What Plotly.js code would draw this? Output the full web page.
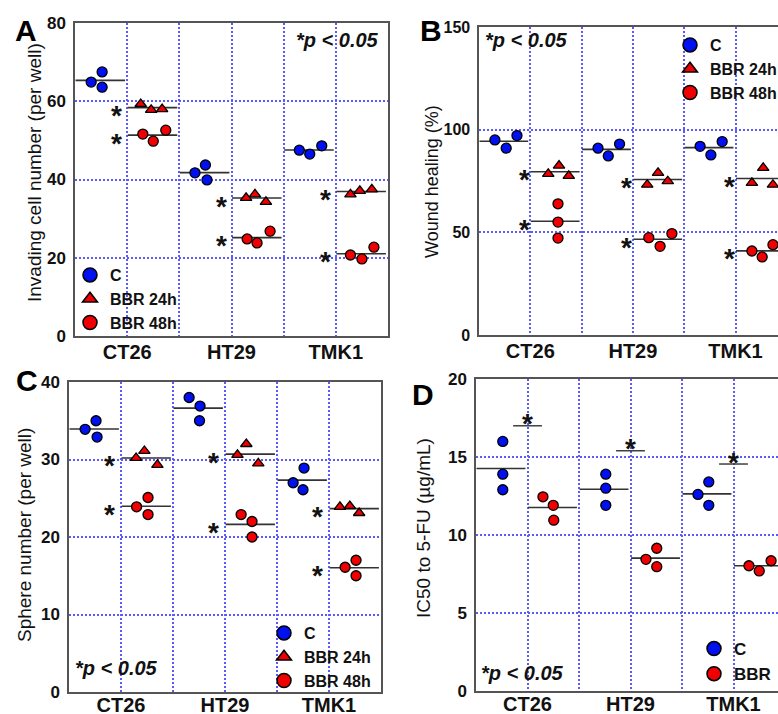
<!DOCTYPE html>
<html>
<head>
<meta charset="utf-8">
<script src="https://cdn.plot.ly/plotly-3.0.1.min.js"></script>
<style>html,body{margin:0;padding:0;background:#fff;}</style>
</head>
<body>
<div id="chart" style="width:778px;height:714px;"></div>
<script>
// ---------- data ----------
const cellLines = ['CT26', 'HT29', 'TMK1'];
const groupNamesABC = ['C', 'BBR 24h', 'BBR 48h'];
const groupNamesD = ['C', 'BBR'];

// A: Invading cell number (per well)  [cell line][replicate]
const invC   = [[64.9, 67.5, 63.6], [41.7, 43.7, 39.9], [47.5, 46.5, 48.6]];
const inv24h = [[59.3, 57.8, 58.0], [35.3, 36.2, 34.3], [36.2, 37.1, 37.5]];
const inv48h = [[51.6, 49.8, 52.6], [24.8, 23.8, 26.8], [20.7, 19.7, 22.7]];

// B: Wound healing (%)
const woundC   = [[95.0, 91.0, 97.1], [91.0, 87.2, 93.0], [91.9, 87.7, 94.2]];
const wound24h = [[78.5, 82.5, 77.5], [73.2, 79.0, 74.9], [74.1, 81.4, 73.2]];
const wound48h = [[63.9, 55.0, 47.2], [47.4, 43.2, 49.4], [40.9, 38.0, 44.0]];

// C: Sphere number (per well)
const sphereC   = [[33.9, 35.0, 32.9], [38.0, 36.9, 35.0], [27.0, 28.9, 26.1]];
const sphere24h = [[30.2, 31.1, 29.3], [30.6, 32.0, 29.5], [23.9, 24.0, 23.1]];
const sphere48h = [[23.9, 25.1, 22.9], [22.9, 22.0, 20.0], [16.1, 17.0, 15.0]];

// D: IC50 to 5-FU (ug/mL)
const ic50C   = [[16.0, 13.9, 12.9], [13.9, 13.0, 11.9], [12.6, 13.4, 11.9]];
const ic50BBR = [[12.45, 11.9, 10.95], [8.44, 9.15, 7.97], [8.03, 7.7, 8.35]];
const ic50SigBar = [17.0, 15.4, 14.55];

// ---------- layout helpers (positions / styles) ----------
// horizontal jitter of replicate dots inside their slot [panel][group][cell line][replicate]
const jitter = {
  A: [[[0.31,0.52,0.52],[0.30,0.50,0.53],[0.30,0.50,0.73]],
      [[0.26,0.46,0.67],[0.28,0.45,0.66],[0.28,0.46,0.69]],
      [[0.30,0.50,0.74],[0.30,0.49,0.74],[0.28,0.50,0.73]]],
  B: [[[0.31,0.53,0.74],[0.32,0.52,0.74],[0.31,0.52,0.74]],
      [[0.35,0.56,0.75],[0.28,0.49,0.68],[0.32,0.54,0.73]],
      [[0.54,0.54,0.54],[0.31,0.53,0.76],[0.32,0.52,0.73]]],
  C: [[[0.31,0.52,0.54],[0.31,0.52,0.51],[0.31,0.52,0.50]],
      [[0.29,0.45,0.70],[0.24,0.41,0.64],[0.21,0.40,0.58]],
      [[0.30,0.52,0.52],[0.31,0.52,0.52],[0.31,0.52,0.52]]],
  D: [[[0.52,0.52,0.52],[0.52,0.52,0.52],[0.31,0.52,0.52]],
      [[0.30,0.50,0.51],[0.30,0.51,0.51],[0.30,0.50,0.73]]]
};
const W = 778, H = 714;
const px = v => v / W;
const py = v => 1 - v / H;
const FONT = 'Liberation Sans, Arial, sans-serif';
const BLUE = '#0010f0', RED = '#f00000';
const GRID = '#5a5aff';
const AXC = '#555555';

const mean = a => a.reduce((s, v) => s + v, 0) / a.length;

const panels = [
  {id:'A', ax:'', groups:[invC, inv24h, inv48h], names:groupNamesABC, legend:'legend',
   dom:[75,388,23,336], range:[0,6], yr:[0,80], dt:20, mirrorY:true, starOff:0.2, xstand:-3},
  {id:'B', ax:'2', groups:[woundC, wound24h, wound48h], names:groupNamesABC, legend:'legend2',
   dom:[479,778,27,335], range:[0,(778-479)/51.3], yr:[0,150], dt:50, mirrorY:false, starOff:0.12, xstand:-3},
  {id:'C', ax:'3', groups:[sphereC, sphere24h, sphere48h], names:groupNamesABC, legend:'legend3',
   dom:[69,381,382,692], range:[0,6], yr:[0,40], dt:10, mirrorY:true, starOff:0.22, xstand:-6},
  {id:'D', ax:'4', groups:[ic50C, ic50BBR], names:groupNamesD, legend:'legend4',
   dom:[476,778,379,691], range:[0,(778-476)/51.5], yr:[0,20], dt:5, mirrorY:false, starOff:0, xstand:-6}
];

const colors = [BLUE, RED, RED];
const symbols = ['circle', 'triangle-up', 'circle'];

const traces = [];
const annotations = [];
const layout = {
  width: W, height: H,
  margin: {l:0, r:0, t:0, b:0, autoexpand:false},
  paper_bgcolor: '#ffffff', plot_bgcolor: '#ffffff',
  font: {family: FONT, color: '#111'},
  showlegend: true
};

panels.forEach((p) => {
  const xa = 'x' + p.ax, ya = 'y' + p.ax;
  // mean lines
  const lx = [], ly = [];
  p.groups.forEach((g, gi) => {
    g.forEach((reps, ci) => {
      const slot = ci * 2 + (gi === 0 ? 0 : 1);
      const m = mean(reps);
      lx.push(slot + 0.01, slot + 0.96, null);
      ly.push(m, m, null);
    });
  });
  traces.push({
    type:'scatter', mode:'lines', x:lx, y:ly, xaxis:xa, yaxis:ya, showlegend:false,
    line:{color:'#333', width:1.6}, hoverinfo:'skip'
  });
  // dots
  p.groups.forEach((g, gi) => {
    const xs = [], ys = [];
    g.forEach((reps, ci) => {
      const slot = ci * 2 + (gi === 0 ? 0 : 1);
      reps.forEach((v, ri) => { xs.push(slot + jitter[p.id][gi][ci][ri]); ys.push(v); });
    });
    const sym = p.id === 'D' ? 'circle' : symbols[gi];
    traces.push({
      type:'scatter', mode:'markers', x:xs, y:ys, xaxis:xa, yaxis:ya, showlegend:false,
      name:p.names[gi],
      marker:{color:colors[gi], symbol:sym, size:10, line:{color:'#000', width:1.3}},
      hoverinfo:'skip'
    });
  });
  // significance stars
  if (p.id !== 'D') {
    p.groups.forEach((g, gi) => {
      if (gi === 0) return;
      g.forEach((reps, ci) => {
        annotations.push({xref:xa, yref:ya, x: ci * 2 + 1 - p.starOff, y: mean(reps), text:'*',
          showarrow:false, font:{size:28, weight:'bold', color:'#111'}, yshift:-8});
      });
    });
  } else {
    const bx = [], by = [];
    ic50SigBar.forEach((v, ci) => {
      bx.push(ci * 2 + 1 - 0.28, ci * 2 + 1 + 0.28, null); by.push(v, v, null);
      annotations.push({xref:xa, yref:ya, x: ci * 2 + 1, y: v, text:'*', showarrow:false,
        font:{size:28, weight:'bold', color:'#111'}, yshift:2});
    });
    traces.push({type:'scatter', mode:'lines', x:bx, y:by, xaxis:xa, yaxis:ya, showlegend:false,
      line:{color:'#333', width:1.4}, hoverinfo:'skip'});
  }
  // legend-only entries
  p.names.forEach((n, gi) => {
    const sym = p.id === 'D' ? 'circle' : symbols[gi];
    traces.push({type:'scatter', mode:'markers', x:[null], y:[null], xaxis:xa, yaxis:ya,
      name:n, legend:p.legend, showlegend:true,
      marker:{color:colors[gi], symbol:sym, size: sym === 'circle' ? 14 : 13, line:{color:'#000', width:1.5}}});
  });

  const [x0, x1, y0, y1] = p.dom;
  layout['xaxis' + p.ax] = {
    domain:[px(x0), px(x1)], range:p.range, anchor:ya,
    tickmode:'array', tickvals:[1,2,3,4,5], ticktext:['CT26','','HT29','','TMK1'],
    ticks:'', showgrid:true, gridcolor:GRID, griddash:'2px,2px', gridwidth:2,
    zeroline:false, showline:true, linecolor:AXC, linewidth:1.6, mirror:true,
    tickfont:{size:20, weight:'bold', family:FONT, color:'#111'}, ticklabelstandoff:p.xstand,
    fixedrange:true
  };
  layout['yaxis' + p.ax] = {
    domain:[py(y1), py(y0)], range:p.yr, anchor:xa, dtick:p.dt, tick0:0,
    ticks:'', showgrid:true, gridcolor:GRID, griddash:'2px,2px', gridwidth:2,
    zeroline:false, showline:true, linecolor:AXC, linewidth:1.6, mirror:p.mirrorY,
    tickfont:{size: p.id === 'B' ? 16 : 17, weight:'bold', family:FONT, color:'#111'},
    ticklabelstandoff:4, fixedrange:true
  };
});

// legends
const legBase = {bgcolor:'rgba(0,0,0,0)', borderwidth:0, itemsizing:'trace', tracegroupgap:0,
  font:{size:16, weight:'bold', family:FONT, color:'#111'}, xanchor:'left', yanchor:'top'};
layout.legend  = Object.assign({}, legBase, {x:px(70),  y:py(258)});
layout.legend2 = Object.assign({}, legBase, {x:px(670), y:py(28)});
layout.legend3 = Object.assign({}, legBase, {x:px(264), y:py(616)});
layout.legend4 = Object.assign({}, legBase, {x:px(694), y:py(631), font:{size:17, weight:'bold', family:FONT, color:'#111'}});

// panel letters, p-value notes, y titles
const textNotes = [
  {t:'A', x:26, y:31}, {t:'B', x:431, y:31}, {t:'C', x:27, y:380}, {t:'D', x:423, y:394}
];
textNotes.forEach(n => annotations.push({xref:'paper', yref:'paper', x:px(n.x), y:py(n.y),
  xanchor:'center', yanchor:'middle', text:n.t, showarrow:false,
  font:{size:30, weight:'bold', family:FONT, color:'#000'}}));
const pNotes = [[337,40],[526,40],[117,668],[522,673]];
pNotes.forEach(([x,y]) => annotations.push({xref:'paper', yref:'paper', x:px(x), y:py(y),
  xanchor:'center', yanchor:'middle', text:'<b><i>*p &lt; 0.05</i></b>', showarrow:false,
  font:{size:20, family:FONT, color:'#111'}}));
const yTitles = [
  ['Invading cell number (per well)', 34, 173, 19],
  ['Wound healing (%)', 432, 182, 18],
  ['Sphere number (per well)', 24, 535, 19],
  ['IC50 to 5-FU (\u00b5g/mL)', 423, 528, 19]
];
yTitles.forEach(([t,x,y,s]) => annotations.push({xref:'paper', yref:'paper', x:px(x), y:py(y),
  xanchor:'center', yanchor:'middle', text:t, textangle:-90, showarrow:false,
  font:{size:s, family:FONT, color:'#111'}}));

layout.annotations = annotations;

Plotly.newPlot('chart', traces, layout, {displayModeBar:false, staticPlot:true});
</script>
</body>
</html>
